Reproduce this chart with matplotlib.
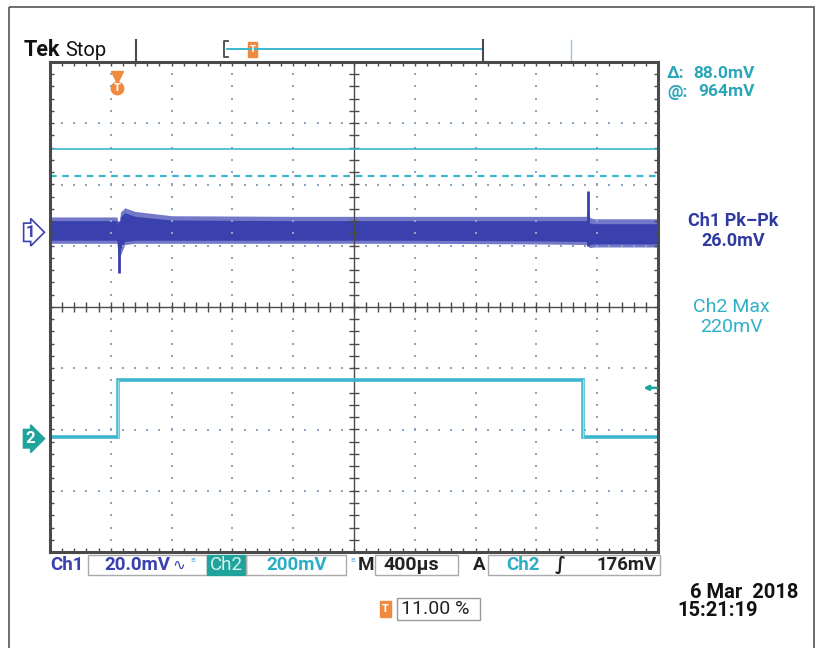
import matplotlib
matplotlib.use('Agg')
import matplotlib.pyplot as plt
import numpy as np
from matplotlib.patches import Rectangle

W, H = 819, 648

# ---- data (x in divisions 0..10, y in divisions -4..4) ----
ch1_x     = [0.0, 1.10, 1.13, 1.16, 1.23, 1.40, 2.0, 4.0, 6.0, 8.0, 8.82, 8.85, 8.88, 8.95, 10.0]
ch1_upper = [1.47, 1.47, 1.30, 1.55, 1.62, 1.56, 1.49, 1.48, 1.48, 1.48, 1.48, 1.60, 1.46, 1.44, 1.44]
ch1_lower = [1.04, 1.04, 0.80, 0.85, 1.02, 1.04, 1.04, 1.04, 1.04, 1.03, 1.02, 0.99, 0.97, 0.98, 0.98]
ch1_core_hi = [1.41, 1.41, 1.20, 1.47, 1.54, 1.48, 1.42, 1.41, 1.41, 1.41, 1.41, 1.50, 1.37, 1.36, 1.36]
ch1_core_lo = [1.09, 1.09, 0.90, 0.95, 1.07, 1.09, 1.09, 1.09, 1.09, 1.08, 1.07, 1.03, 1.02, 1.03, 1.03]
# spikes: (x, low, high)
ch1_spikes = [(1.13, 0.56, 1.40), (8.85, 1.00, 1.89)]

ch2_x = [0.0, 1.12, 1.12, 8.77, 8.77, 10.0]
ch2_y = [-2.12, -2.12, -1.19, -1.19, -2.12, -2.12]

cursor_solid = 2.58
cursor_dashed = 2.14
ch1_ground = 1.22
ch2_ground = -2.15
trig_pos = 1.10
trig_level = -1.32

readout_top = [("\u0394:", "88.0mV"), ("@:", "964mV")]
meas1 = ["Ch1 Pk\u2013Pk", "26.0mV"]
meas2 = ["Ch2 Max", "220mV"]

C1 = '#3a40ae'
C2 = '#3cb6cf'
TEAL = '#1fa39b'
ORANGE = '#f08a3c'
GRID = '#8aa6c2'
FRAME = '#4a4a4a'
FONT = ['Roboto', 'DejaVu Sans']
BS = 13.5

fig = plt.figure(figsize=(W / 100, H / 100), dpi=100)

# background axes in pixel coords
bg = fig.add_axes([0, 0, 1, 1])
bg.set_xlim(0, W)
bg.set_ylim(H, 0)
bg.axis('off')
bg.add_patch(Rectangle((9, 7), 805, 660, fill=False, ec='#555555', lw=1.2))

# scope graticule axes
x0, x1, y0, y1 = 50, 658, 62, 552
sc = fig.add_axes([x0 / W, 1 - y1 / H, (x1 - x0) / W, (y1 - y0) / H])
sc.set_xlim(0, 10)
sc.set_ylim(-4, 4)
sc.set_xticks([])
sc.set_yticks([])
for s in sc.spines.values():
    s.set_color(FRAME)
    s.set_linewidth(2.2)

sub = np.arange(0, 10.01, 0.2)
subv = np.arange(-4, 4.01, 0.2)
for i in range(1, 10):
    if i == 5:
        continue
    sc.plot(np.full(len(subv), i), subv, ls='none', marker='s', ms=1.6, color=GRID, mew=0)
for j in range(-3, 4):
    if j == 0:
        continue
    sc.plot(sub, np.full(len(sub), j), ls='none', marker='s', ms=1.6, color=GRID, mew=0)
# centre lines with ticks
sc.axvline(5, color=FRAME, lw=1.0)
sc.axhline(0, color=FRAME, lw=1.0)
sc.plot(np.full(len(subv), 5), subv, ls='none', marker='_', ms=7, color=FRAME, mew=1)
sc.plot(sub, np.zeros(len(sub)), ls='none', marker='|', ms=7, color=FRAME, mew=1)
# edge ticks
sc.plot(sub, np.full(len(sub), 4), ls='none', marker='|', ms=6, color=FRAME, mew=1)
sc.plot(sub, np.full(len(sub), -4), ls='none', marker='|', ms=6, color=FRAME, mew=1)
sc.plot(np.zeros(len(subv)), subv, ls='none', marker='_', ms=6, color=FRAME, mew=1)
sc.plot(np.full(len(subv), 10), subv, ls='none', marker='_', ms=6, color=FRAME, mew=1)

# cursors
sc.axhline(cursor_solid, color=C2, lw=1.2)
sc.axhline(cursor_dashed, color=C2, lw=1.6, ls=(0, (3, 2.5)))

# ch1 noise band
sc.fill_between(ch1_x, ch1_lower, ch1_upper, color='#5a60bf', lw=0, alpha=0.85)
sc.fill_between(ch1_x, ch1_core_lo, ch1_core_hi, color=C1, lw=0)
for sx, lo, hi in ch1_spikes:
    sc.plot([sx, sx], [lo, hi], color=C1, lw=2.0, solid_capstyle='butt')

# ch2 square pulse
sc.plot(ch2_x, ch2_y, color=C2, lw=2.6, solid_joinstyle='miter')
sc.plot(ch2_x[1:3], ch2_y[1:3], color='#9bdbe8', lw=1.0)
sc.plot(ch2_x[3:5], ch2_y[3:5], color='#9bdbe8', lw=1.0)

# trigger level arrow
sc.annotate('', xy=(9.76, trig_level), xytext=(9.98, trig_level),
            arrowprops=dict(arrowstyle='-|>', color=TEAL, lw=1.8, mutation_scale=7,
                            shrinkA=0, shrinkB=0))
# trigger position marker
sc.plot([trig_pos], [3.75], marker='v', ms=8, color=ORANGE, clip_on=False)
sc.plot([trig_pos], [3.58], marker='o', ms=9, color=ORANGE, clip_on=False)
sc.text(trig_pos, 3.58, 'T', color='white', fontsize=7, ha='center', va='center', weight='bold')

# channel ground markers
def ch_marker(yv, label, filled, col):
    tr = sc.get_yaxis_transform()
    sc.text(-0.025, yv, label, transform=tr, ha='right', va='center', fontsize=12,
            color='white' if filled else col, weight='bold', family=FONT,
            bbox=dict(boxstyle='rarrow,pad=0.1', fc=col if filled else 'white', ec=col, lw=1.2),
            clip_on=False)

ch_marker(ch1_ground, '1', False, C1)
ch_marker(ch2_ground, '2', True, TEAL)

# ---- top status line ----
bg.text(24, 50, 'Tek', fontsize=15.5, weight='bold', family=FONT, va='center', color='#111111')
bg.text(65, 50, 'Stop', fontsize=14.5, family=FONT, va='center', color='#111111')
bg.plot([136, 136], [40, 62], color=FRAME, lw=1.5)
bg.plot([571, 571], [40, 62], color='#9cc6de', lw=1.0)
bg.plot([228, 224, 224, 228], [41, 41, 57, 57], color=FRAME, lw=1.3)
bg.plot([227, 483], [49, 49], color=C2, lw=1.4)
bg.plot([483, 483], [40, 60], color=FRAME, lw=1.5)
bg.add_patch(Rectangle((248, 42), 9, 15, color=ORANGE))
bg.text(252.5, 50, 'T', fontsize=6, color='white', ha='center', va='center', weight='bold')

# right readouts
for k, (lab, val) in enumerate(readout_top):
    yy = 73 + 19 * k
    bg.text(667, yy, lab, fontsize=12.5, color='#2aa6b8', family=FONT, va='center', weight='bold')
    bg.text(755, yy, val, fontsize=12.5, color='#2aa6b8', family=FONT, va='center', ha='right', weight='bold')
bg.text(733, 221, meas1[0], fontsize=13, color='#2f3aa0', family=FONT, ha='center', va='center', weight='bold')
bg.text(733, 241, meas1[1], fontsize=13, color='#2f3aa0', family=FONT, ha='center', va='center', weight='bold')
bg.text(731, 307, meas2[0], fontsize=14, color='#30b0c8', family=FONT, ha='center', va='center')
bg.text(731, 327, meas2[1], fontsize=14, color='#30b0c8', family=FONT, ha='center', va='center')

# ---- bottom readout row ----
ry = 565
bg.text(50, ry, 'Ch1', fontsize=BS, color=C1, family=FONT, va='center', weight='bold')
bg.add_patch(Rectangle((88, 555), 119, 20, fill=False, ec='#aaaaaa', lw=1))
bg.text(104, ry, '20.0mV', fontsize=BS, color=C1, family=FONT, va='center', weight='bold')
bg.text(172, ry, '\u223f', fontsize=11, color=C1, va='center')
bg.text(190, ry - 2, '\u1d2e', fontsize=8, color='#5aa6d8', va='center')
bg.add_patch(Rectangle((207, 555), 39, 20, color=TEAL))
bg.text(226.5, ry, 'Ch2', fontsize=BS, color='#d5f2ee', family=FONT, ha='center', va='center')
bg.add_patch(Rectangle((246, 555), 100, 20, fill=False, ec='#aaaaaa', lw=1))
bg.text(266, ry, '200mV', fontsize=BS, color='#2aaec4', family=FONT, va='center', weight='bold')
bg.text(350, ry - 2, '\u1d2e', fontsize=8, color='#5aa6d8', va='center')
bg.text(358, ry, 'M', fontsize=BS, color='#222222', family=FONT, va='center', weight='bold')
bg.add_patch(Rectangle((375, 555), 83, 20, fill=False, ec='#aaaaaa', lw=1))
bg.text(383, ry, '400\u00b5s', fontsize=BS + 0.5, color='#222222', family=FONT, va='center', weight='bold')
bg.text(473, ry, 'A', fontsize=BS, color='#222222', family=FONT, va='center', weight='bold')
bg.add_patch(Rectangle((488, 555), 172, 20, fill=False, ec='#aaaaaa', lw=1))
bg.text(506, ry, 'Ch2', fontsize=BS, color='#2aaec4', family=FONT, va='center', weight='bold')
bg.text(555, ry, '\u222b', fontsize=13, color='#222222', va='center', weight='bold')
bg.text(657, ry, '176mV', fontsize=BS, color='#222222', family=FONT, ha='right', va='center', weight='bold')

# trigger position percent
bg.add_patch(Rectangle((380, 601), 11, 16, color=ORANGE))
bg.text(385.5, 609, 'T', fontsize=7, color='white', ha='center', va='center', weight='bold')
bg.add_patch(Rectangle((397, 598), 83, 22, fill=False, ec='#999999', lw=1))
bg.text(401, 609, '11.00 %', fontsize=14, color='#222222', family=FONT, va='center')

# date / time
bg.text(798, 592, '6 Mar  2018', fontsize=14.5, color='#111111', family=FONT, ha='right', va='center', weight='bold')
bg.text(677, 610, '15:21:19', fontsize=14.5, color='#111111', family=FONT, va='center', weight='bold')

fig.savefig('out.png', dpi=100)
